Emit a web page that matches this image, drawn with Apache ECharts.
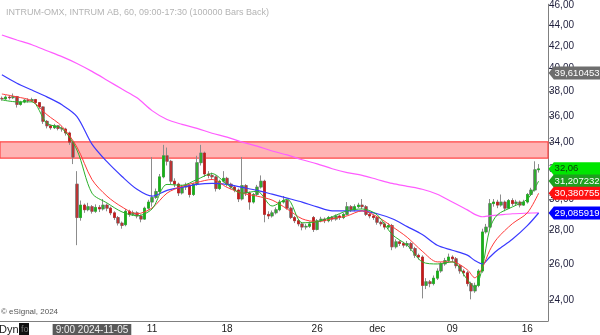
<!DOCTYPE html>
<html><head><meta charset="utf-8">
<script src="https://cdn.jsdelivr.net/npm/echarts@6/dist/echarts.min.js"></script>
<style>html,body{margin:0;padding:0;background:#fff}#c{width:600px;height:335px}</style>
</head><body><div id="c"></div>
<script>
const days = ['2024-10-28','2024-10-29','2024-10-30','2024-10-31','2024-11-01','2024-11-04','2024-11-05','2024-11-06','2024-11-07','2024-11-08',
  '2024-11-11','2024-11-12','2024-11-13','2024-11-14','2024-11-15','2024-11-18','2024-11-19','2024-11-20','2024-11-21','2024-11-22',
  '2024-11-25','2024-11-26','2024-11-27','2024-11-28','2024-11-29','2024-12-02','2024-12-03','2024-12-04','2024-12-05','2024-12-06',
  '2024-12-09','2024-12-10','2024-12-11','2024-12-12','2024-12-13','2024-12-16','2024-12-17'];
const slots = ['09:00','11:00','13:00','15:00'];
const categories = days.flatMap(d => slots.map(s => d + ' ' + s)).slice(0, 146);

const opens = [37.45,37.40,37.55,37.50,37.60,36.95,37.15,37.30,37.25,37.35,
 37.10,36.75,35.60,35.25,35.10,35.25,35.05,35.00,34.70,34.00,
 31.00,28.80,29.60,29.30,29.50,29.20,29.45,29.35,29.60,29.40,
 29.10,28.80,28.45,28.35,29.20,29.00,29.10,28.90,28.70,29.40,
 29.80,30.10,30.50,31.50,33.00,32.60,31.20,31.00,30.40,30.80,
 30.90,30.30,31.00,32.50,33.20,31.70,31.60,31.50,30.70,31.20,
 31.40,31.00,30.80,30.60,30.00,30.90,30.40,29.80,30.30,30.80,
 31.20,29.00,28.90,29.10,29.30,29.80,29.90,29.40,28.80,28.60,
 28.40,28.20,28.25,28.80,28.05,28.60,28.70,28.60,28.80,28.70,
 28.90,28.80,29.00,29.50,29.30,29.50,29.60,29.50,29.00,28.90,
 28.80,28.50,28.40,28.20,28.30,27.00,27.30,27.20,27.10,27.20,
 26.90,26.50,26.40,24.80,25.00,24.90,25.20,25.60,26.00,26.20,
 26.40,26.30,25.90,25.60,25.50,24.90,24.50,24.80,25.60,27.90,
 28.20,29.70,29.80,29.60,29.80,29.40,29.90,29.70,29.80,29.60,
 29.80,30.30,30.60,32.00];
const closes = [37.40,37.55,37.50,37.60,36.95,37.15,37.30,37.25,37.35,37.10,
 36.75,35.60,35.25,35.10,35.25,35.05,35.00,34.70,34.00,32.90,
 28.80,29.60,29.30,29.50,29.20,29.45,29.35,29.60,29.40,29.10,
 28.80,28.45,28.30,29.20,29.00,29.10,28.90,28.70,29.40,29.80,
 30.10,30.50,31.50,33.00,32.60,31.20,31.00,30.40,30.80,30.90,
 30.30,31.00,32.50,33.20,31.70,31.60,31.50,30.70,31.20,31.40,
 31.00,30.80,30.60,30.00,30.90,30.40,29.80,30.30,30.80,31.20,
 29.00,28.90,29.10,29.30,29.80,29.90,29.40,28.80,28.60,28.40,
 28.20,28.25,28.40,28.05,28.60,28.70,28.60,28.80,28.70,28.90,
 28.80,29.00,29.50,29.30,29.50,29.60,29.50,29.00,28.90,28.80,
 28.50,28.40,28.20,28.30,27.00,27.30,27.20,27.10,27.20,26.90,
 26.50,26.40,24.80,25.00,24.90,25.20,25.60,26.00,26.20,26.40,
 26.30,25.90,25.60,25.50,24.90,24.50,24.80,25.60,27.90,28.20,
 29.70,29.80,29.60,29.80,29.40,29.90,29.70,29.80,29.60,29.80,
 30.30,30.60,32.00,32.06];
const lows = [37.25,37.30,37.35,37.40,36.70,36.85,37.05,37.10,37.15,37.00,
 36.60,35.40,35.05,34.95,35.00,34.90,34.80,34.50,33.80,32.40,
 27.10,28.60,29.10,29.20,29.05,29.10,29.15,29.25,29.20,28.95,
 28.65,28.30,28.10,28.25,28.85,28.90,28.75,28.50,28.65,29.30,
 29.50,30.00,30.40,31.40,32.30,31.00,30.80,30.20,30.30,30.60,
 30.10,30.20,30.90,32.30,31.50,31.40,31.30,30.50,30.60,31.10,
 30.85,30.65,30.45,29.80,29.90,30.20,29.30,29.70,30.20,30.70,
 28.50,28.70,28.80,29.00,29.20,29.70,29.30,28.70,28.45,28.25,
 28.00,28.05,28.15,27.90,28.00,28.50,28.45,28.50,28.55,28.60,
 28.65,28.70,28.95,29.15,29.20,29.40,29.35,28.90,28.75,28.65,
 28.35,28.25,28.05,28.10,26.80,26.90,27.05,26.95,27.00,26.75,
 26.35,26.25,24.10,24.60,24.70,24.80,25.10,25.50,25.90,26.10,
 26.10,25.75,25.45,25.30,24.75,24.05,24.40,24.70,25.50,27.80,
 28.10,29.50,29.40,29.50,29.20,29.35,29.55,29.60,29.45,29.55,
 29.70,30.20,30.50,31.80];
const highs = [37.60,37.70,37.65,37.85,37.65,37.25,37.40,37.45,37.50,37.40,
 37.15,36.80,35.70,35.35,35.40,35.30,35.20,35.10,34.80,34.10,
 31.90,29.90,29.70,29.75,29.60,29.65,29.60,30.00,29.70,29.50,
 29.20,28.90,28.55,29.35,29.30,29.25,29.20,29.00,29.50,29.95,
 32.90,30.70,31.70,33.80,33.60,32.70,31.40,31.10,30.95,31.10,
 31.00,31.10,33.00,33.80,33.30,31.90,31.80,31.60,31.30,31.90,
 31.50,31.10,30.90,30.70,32.90,31.00,30.50,30.40,30.95,31.60,
 31.30,29.20,29.25,29.45,29.95,30.20,30.00,29.50,28.90,28.70,
 28.50,28.40,28.55,28.90,28.70,28.85,28.80,28.90,28.90,29.00,
 29.00,29.10,29.80,29.60,29.65,29.75,30.00,29.60,29.10,29.00,
 28.90,28.60,28.50,28.45,28.40,27.45,27.40,27.30,27.35,27.30,
 27.00,26.60,26.50,25.20,25.10,25.35,25.75,26.10,26.35,26.60,
 26.50,26.40,26.00,25.70,25.60,25.00,24.95,25.70,28.10,28.40,
 30.00,30.00,29.95,30.30,29.90,30.00,30.05,29.95,29.90,29.95,
 30.40,30.75,32.60,32.40];

const maIndex = [0,4,8,12,16,20,24,28,32,36,40,44,48,52,56,60,64,68,72,76,80,84,88,92,96,100,104,108,112,116,120,124,126,128,130,132,136,140,143];
const maMagenta = [43.06,42.59,42.14,41.59,41.05,40.44,39.74,38.98,38.22,37.49,36.45,35.74,35.36,35.05,34.68,34.38,34.01,33.71,33.35,33.06,
 32.71,32.42,32.07,31.80,31.60,31.32,31.05,30.85,30.65,30.32,29.80,29.29,29.00,28.85,28.91,28.95,29.04,29.08,29.10];
const maBlue = [39.45,38.72,38.14,37.57,36.92,35.98,33.86,32.57,31.53,30.65,30.19,30.58,30.78,30.98,31.05,30.98,30.78,30.58,30.32,30.06,
 29.80,29.48,29.23,29.23,29.23,29.04,28.72,28.23,27.74,27.09,26.80,26.51,26.20,26.00,26.40,26.80,27.45,28.29,29.09];
const maRed = [37.81,37.57,37.24,36.13,35.21,33.64,31.32,30.19,29.48,29.04,29.41,30.39,30.85,31.12,31.32,30.78,30.39,30.19,29.93,29.35,
 28.72,28.54,28.72,28.91,29.23,28.85,28.23,27.57,26.74,26.12,26.12,25.67,25.22,25.78,26.80,27.51,28.41,29.10,30.38];
const maGreen = [37.32,37.16,37.16,35.44,35.05,33.42,30.39,29.74,29.16,28.91,29.35,30.98,30.92,31.32,31.73,30.98,30.39,30.52,29.54,29.99,
 28.47,28.54,28.85,29.23,29.35,28.97,27.74,27.09,26.12,26.00,26.12,25.12,24.68,25.78,28.11,28.97,29.48,29.99,31.21];

const yTicks = [24,26,28,30,32,34,36,38,40,42,44,46];
const xLabelIdx = [24,40,60,84,100,120,140];
const xLabelText = ['9:00 2024-11-05','11','18','26','dec','09','16'];
const xTickIdx = [19,40,60,84,100,120,140];
const band = [32.83, 34.03];

const tagValues = [39.610453, 32.06, 31.207232, 30.380755, 29.085919];
const tagTexts = ['39,610453','32,06','31,207232','30,380755','29,085919'];
const tagColors = ['#6e6e6e','#00e600','#1f9f1f','#ff1010','#0000ff'];
const tagTextColors = ['#ffffff','#0a3a0a','#ffffff','#ffffff','#ffffff'];

const ohlc = opens.map((o,i)=>[o, closes[i], lows[i], highs[i]]);
const bodies = opens.map((o,i)=>[o, closes[i], Math.min(o,closes[i]), Math.max(o,closes[i])]);
const lastIdx = opens.length - 1;
const pair = arr => maIndex.map((ix,k)=>[ix, arr[k]]);

const chart = echarts.init(document.getElementById('c'), null, {renderer:'canvas'});
const FONT = 'Liberation Sans, Arial, sans-serif';
chart.setOption({
  animation:false,
  backgroundColor:'#ffffff',
  textStyle:{fontFamily:FONT},
  title:{text:'INTRUM-OMX, INTRUM AB, 60, 09:00-17:30 (100000 Bars Back)', left:1, top:3,
    textStyle:{fontSize:9, fontWeight:'normal', color:'#b4b4b4', fontFamily:FONT}},
  grid:{left:0, right:52, top:0, bottom:13, containLabel:false},
  xAxis:{type:'category', data:categories, boundaryGap:true,
    axisLine:{lineStyle:{color:'#808080', width:1}},
    axisTick:{inside:true, length:3, alignWithLabel:true, lineStyle:{color:'#808080'},
      interval:(i)=>xTickIdx.includes(i)},
    axisLabel:{interval:(i)=>xLabelIdx.includes(i), margin:3, fontSize:10, color:'#222',
      formatter:(v,i)=>{const k=xLabelIdx.indexOf(i); if(k<0) return ''; return k===0?'{hl|'+xLabelText[k]+'}':xLabelText[k];},
      rich:{hl:{backgroundColor:'#5a5a5a', color:'#eeeeee', fontSize:10, padding:[1,3,0,3]}}},
    splitLine:{show:false}},
  yAxis:{type:'log', position:'right', min:22.93, max:46.08, logBase:10,
    axisLine:{show:true, lineStyle:{color:'#808080', width:1}},
    axisTick:{show:true, length:5, lineStyle:{color:'#808080'}, customValues:yTicks},
    axisLabel:{customValues:yTicks, margin:1, fontSize:10, color:'#1e1e3c',
      formatter:v=>Number(v).toFixed(2).replace('.',',')},
    splitLine:{show:false}},
  series:[
    {type:'candlestick', name:'wicks', data:ohlc, barWidth:3, silent:true,
      itemStyle:{color:'#8c8c8c', color0:'#8c8c8c', borderColor:'#8c8c8c', borderColor0:'#8c8c8c', borderWidth:1},
      markArea:{silent:true, itemStyle:{color:'#ffb4b4', borderColor:'#ff4646', borderWidth:1.2},
        data:[[{yAxis:band[0]},{yAxis:band[1]}]]}},
    {type:'candlestick', name:'bodies', data:bodies, barWidth:2, silent:true,
      itemStyle:{color:'#14b414', color0:'#c81818', borderColor:'#14b414', borderColor0:'#c81818', borderWidth:0.5}},
    {type:'line', data:pair(maMagenta), showSymbol:false, smooth:0.3, lineStyle:{color:'#ff5cff', width:1.2}, silent:true},
    {type:'line', data:pair(maBlue), showSymbol:false, smooth:0.3, lineStyle:{color:'#3a3aff', width:1.2}, silent:true},
    {type:'line', data:pair(maRed), showSymbol:false, smooth:0.3, lineStyle:{color:'#ff3a3a', width:1}, silent:true},
    {type:'line', data:pair(maGreen), showSymbol:false, smooth:0.3, lineStyle:{color:'#2ab02a', width:1}, silent:true,
      markPoint:{silent:true, symbol:'path://M0,6L6,0L60,0L60,12L6,12Z', symbolSize:[52,13], symbolKeepAspect:false, symbolOffset:[36,0],
        data:tagValues.map((v,k)=>({coord:[lastIdx, v], itemStyle:{color:tagColors[k]},
          label:{show:true, position:'insideLeft', distance:6, formatter:tagTexts[k], color:tagTextColors[k], fontSize:9.5, fontFamily:FONT}}))}}
  ],
  graphic:[
    {type:'text', left:1, top:308, style:{text:'© eSignal, 2024', fontSize:8, fill:'#555', fontFamily:FONT}},
    {type:'text', left:-1, top:324, style:{text:'Dyn', fontSize:11, fill:'#222', fontFamily:FONT}},
    {type:'rect', left:19, top:323, shape:{width:10, height:12}, style:{fill:'#111'}},
    {type:'text', left:21, top:325, style:{text:'fo', fontSize:9, fill:'#777', fontFamily:FONT}}
  ]
});
</script></body></html>
